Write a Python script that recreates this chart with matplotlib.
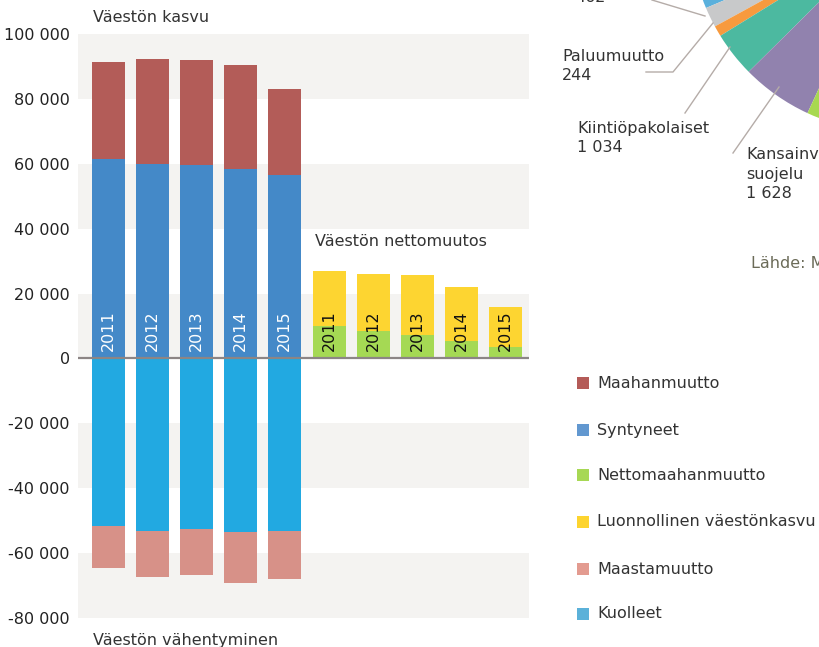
import matplotlib
matplotlib.use("Agg")
import matplotlib.pyplot as plt
from matplotlib.patches import Rectangle
from matplotlib.ticker import FuncFormatter, FixedLocator

# ---------------- data ----------------
years = ["2011", "2012", "2013", "2014", "2015"]
syntyneet = [61500, 59900, 59600, 58400, 56500]
maahanmuutto = [29900, 32400, 32400, 32000, 26500]
kuolleet = [51600, 53200, 52600, 53400, 53200]
maastamuutto = [12900, 14100, 14100, 15700, 14800]
nettomaahanmuutto = [10000, 8400, 7200, 5400, 3600]
luonnollinen = [16900, 17600, 18500, 16600, 12200]

y_ticks = [100000, 80000, 60000, 40000, 20000, 0, -20000, -40000, -60000, -80000]

legend_labels = ["Maahanmuutto", "Syntyneet", "Nettomaahanmuutto",
                 "Luonnollinen väestönkasvu", "Maastamuutto", "Kuolleet"]
legend_colors = ["#b45b58", "#6298d0", "#a7d854", "#fdd42f", "#e39b90", "#5bb1d9"]

# pie fragment (only part visible); unseen slices estimated
pie_values = [1100, 462, 244, 1034, 1628, 4500, 19778]
pie_colors = ["#5ab0dc", "#c8c9ca", "#f79a3e", "#4cb9a0", "#9182ae", "#a8d850", "#e8e8e8"]
pie_labels = ["", "462", "Paluumuutto\n244", "Kiintiöpakolaiset\n1 034",
              "Kansainvälinen\nsuojelu\n1 628", "", ""]

# ---------------- colours ----------------
c_maahan = "#b35c58"
c_synt = "#4489c8"
c_kuol = "#22a9e1"
c_maast = "#d79188"
c_netto = "#a5d954"
c_luonn = "#fdd531"
band = "#f4f3f1"
txt = "#333333"

W, H = 819, 647
fig = plt.figure(figsize=(W / 100, H / 100), dpi=100)
plt.rcParams['font.family'] = ['DejaVu Sans']
FS = 11.5

# ---------------- main bar axes ----------------
ax_l, ax_r, ax_t, ax_b = 78, 529, 34, 618
ax = fig.add_axes([ax_l / W, 1 - ax_b / H, (ax_r - ax_l) / W, (ax_b - ax_t) / H])
ax.set_ylim(-80000, 100000)
step = 44.2
x0 = 108
ax.set_xlim((ax_l - x0) / step, (ax_r - x0) / step)
for s in ax.spines.values():
    s.set_visible(False)

# alternating bands
for lo, hi in [(80000, 100000), (40000, 60000), (0, 20000), (-40000, -20000), (-80000, -60000)]:
    ax.axhspan(lo, hi, color=band, zorder=0, lw=0)

bw = 33 / step
xl = list(range(5))
xr = [i + 5 for i in range(5)]

ax.bar(xl, syntyneet, width=bw, color=c_synt, zorder=2)
ax.bar(xl, maahanmuutto, bottom=syntyneet, width=bw, color=c_maahan, zorder=2)
ax.bar(xl, [-v for v in kuolleet], width=bw, color=c_kuol, zorder=2)
ax.bar(xl, [-v for v in maastamuutto], bottom=[-v for v in kuolleet], width=bw, color=c_maast, zorder=2)
ax.bar(xr, nettomaahanmuutto, width=bw, color=c_netto, zorder=2)
ax.bar(xr, luonnollinen, bottom=nettomaahanmuutto, width=bw, color=c_luonn, zorder=2,
       edgecolor="white", linewidth=0)

ax.axhline(0, color="#8c8585", lw=1.6, zorder=3)

for i, y in zip(xl, years):
    ax.annotate(y, (i, 0), xytext=(0, 5), textcoords="offset points", rotation=90,
                ha="center", va="bottom", color="white", fontsize=FS, zorder=4)
for i, y in zip(xr, years):
    ax.annotate(y, (i, 0), xytext=(0, 5), textcoords="offset points", rotation=90,
                ha="center", va="bottom", color="#111111", fontsize=FS, zorder=4)

ax.yaxis.set_major_locator(FixedLocator(y_ticks))
ax.yaxis.set_major_formatter(FuncFormatter(lambda v, p: f"{int(v):,}".replace(",", " ")))
ax.tick_params(axis="y", length=0, pad=6, labelsize=FS, labelcolor="#222222")
ax.set_xticks([])

# ---------------- pie fragment ----------------
cx, cy, R = 893, -71, 203
pax = fig.add_axes([(cx - R) / W, 1 - (cy + R) / H, 2 * R / W, 2 * R / H])
total = sum(pie_values)
start = 202.9 - pie_values[0] * 360 / total
pax.pie(pie_values, colors=pie_colors, startangle=start, counterclock=True,
        radius=1, wedgeprops=dict(linewidth=0))
pax.set_xlim(-1, 1)
pax.set_ylim(-1, 1)
pax.set_aspect("auto")
pax.axis("off")

# ---------------- overlay (titles, leaders, legend) ----------------
ov = fig.add_axes([0, 0, 1, 1])
ov.set_xlim(0, W)
ov.set_ylim(H, 0)
ov.axis("off")

ov.text(93, 17, "Väestön kasvu", fontsize=FS, color=txt, ha="left", va="center")
ov.text(315, 241, "Väestön nettomuutos", fontsize=FS, color=txt, ha="left", va="center")
ov.text(93, 641, "Väestön vähentyminen", fontsize=FS, color=txt, ha="left", va="center")

lead = "#b5aca8"
ov.plot([652, 705], [0, 16], color=lead, lw=1.0)
ov.plot([646, 673, 713], [72, 72, 23], color=lead, lw=1.0)
ov.plot([685, 730], [113, 47], color=lead, lw=1.0)
ov.plot([733, 779], [153, 87], color=lead, lw=1.0)

label_pos = {1: (575, 2), 2: (562, 61), 3: (577, 133), 4: (746, 159)}
for idx, (lx, ly) in label_pos.items():
    for k, line in enumerate(pie_labels[idx].split("\n")):
        ov.text(lx, ly + k * 19.5, line, fontsize=FS, color=txt, ha="left", va="baseline")

ov.text(751, 268, "Lähde: Maahanmuuttovirasto", fontsize=FS, color="#6b6b58",
        ha="left", va="baseline")

leg_y = [383, 430, 475, 522, 569, 614]
for lab, col, y in zip(legend_labels, legend_colors, leg_y):
    ov.add_patch(Rectangle((577, y - 6), 12, 12, color=col, lw=0))
    ov.text(597, y, lab, fontsize=FS, color=txt, ha="left", va="center")

fig.savefig("out.png", dpi=100)
